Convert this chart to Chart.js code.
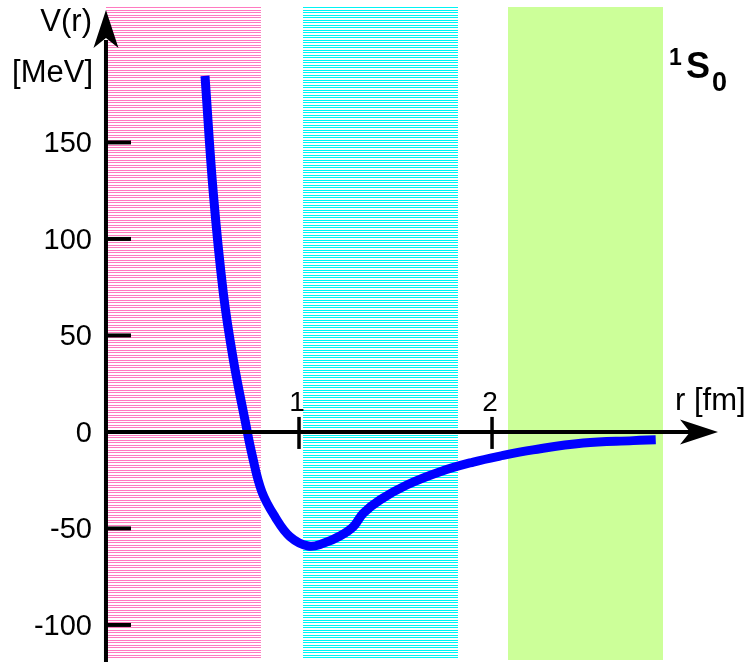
<!DOCTYPE html>
<html>
<head>
<meta charset="utf-8">
<script src="https://cdn.jsdelivr.net/npm/chart.js@4/dist/chart.umd.min.js"></script>
<style>
  html, body { margin: 0; padding: 0; background: #fff; }
  canvas { display: block; }
</style>
</head>
<body>
<canvas id="chart" width="748" height="662"></canvas>
<script>
// potential curve, r in fm, V in MeV
const rValues = [0.513, 0.556, 0.608, 0.660, 0.720, 0.759, 0.808, 0.876, 0.953, 1.048, 1.126, 1.212,
  1.281, 1.333, 1.420, 1.558, 1.731, 1.903, 2.041, 2.212, 2.472, 2.731, 2.848];
const vValues = [184.5, 123.7, 71.9, 37.3, 6.2, -12.8, -31.1, -44.0, -54.2, -59.1, -57.7, -53.9,
  -49.1, -42.1, -35.2, -27.5, -20.6, -15.6, -12.5, -9.3, -5.7, -4.5, -4.1];

// shaded r ranges
const bandStarts = [0, 1.021, 2.083];
const bandEnds = [0.803, 1.824, 2.886];
const bandTop = 220;
const bandBottom = -118;

const yTicks = [150, 100, 50, 0, -50, -100];
const yTickLabels = ['150', '100', '50', '0', '-50', '-100'];
const xTicks = [1, 2];
const xTickLabels = ['1', '2'];

const xMin = -0.549, xMax = 3.326;
const yMin = -119.2, yMax = 223.8;

function stripes(color) {
  const c = document.createElement('canvas');
  c.width = 1; c.height = 5;
  const g = c.getContext('2d');
  g.fillStyle = '#fff';
  g.fillRect(0, 0, 1, 5);
  g.fillStyle = color;
  g.fillRect(0, 0, 1, 1);
  g.fillRect(0, 2, 1, 1);
  return g.createPattern(c, 'repeat');
}

const ctx = document.getElementById('chart').getContext('2d');
const bandFills = [stripes('#ff7ac0'), stripes('#00f4f4'), '#ccff99'];

const bandsPlugin = {
  id: 'bands',
  beforeDatasetsDraw(chart) {
    const { ctx, scales: { x, y } } = chart;
    ctx.save();
    bandStarts.forEach((s, i) => {
      const x0 = Math.round(x.getPixelForValue(s));
      const x1 = Math.round(x.getPixelForValue(bandEnds[i]));
      const y0 = Math.round(y.getPixelForValue(bandTop));
      const y1 = Math.round(y.getPixelForValue(bandBottom));
      ctx.fillStyle = bandFills[i];
      ctx.fillRect(x0, y0, x1 - x0, y1 - y0);
    });
    ctx.restore();
  }
};

const axesPlugin = {
  id: 'axes',
  afterDatasetsDraw(chart) {
    const { ctx, scales: { x, y } } = chart;
    const ax = x.getPixelForValue(0);
    const ay = y.getPixelForValue(0);
    ctx.save();
    ctx.strokeStyle = '#000';
    ctx.fillStyle = '#000';

    // y axis
    ctx.lineWidth = 4;
    ctx.beginPath();
    ctx.moveTo(ax, chart.height);
    ctx.lineTo(ax, 40);
    ctx.stroke();
    ctx.beginPath();
    ctx.moveTo(ax, 10);
    ctx.lineTo(ax - 12.5, 48);
    ctx.lineTo(ax, 38);
    ctx.lineTo(ax + 12.5, 48);
    ctx.closePath();
    ctx.fill();

    // x axis
    ctx.beginPath();
    ctx.moveTo(ax, ay);
    ctx.lineTo(692, ay);
    ctx.stroke();
    ctx.beginPath();
    ctx.moveTo(718, ay);
    ctx.lineTo(680, ay - 12.5);
    ctx.lineTo(690, ay);
    ctx.lineTo(680, ay + 12.5);
    ctx.closePath();
    ctx.fill();

    // y ticks + labels
    ctx.font = '29px "Liberation Sans", Arial, sans-serif';
    ctx.textAlign = 'right';
    ctx.textBaseline = 'middle';
    yTicks.forEach((v, i) => {
      const py = y.getPixelForValue(v);
      if (v !== 0) {
        ctx.beginPath();
        ctx.moveTo(ax, py);
        ctx.lineTo(ax + 25, py);
        ctx.stroke();
      }
      ctx.fillText(yTickLabels[i], 92, py + 2);
    });

    // x ticks + labels
    ctx.lineWidth = 3.5;
    ctx.font = '28px "Liberation Sans", Arial, sans-serif';
    ctx.textAlign = 'center';
    ctx.textBaseline = 'alphabetic';
    xTicks.forEach((v, i) => {
      const px = x.getPixelForValue(v);
      ctx.beginPath();
      ctx.moveTo(px, ay - 15);
      ctx.lineTo(px, ay + 17);
      ctx.stroke();
      ctx.fillText(xTickLabels[i], px - 2, 411);
    });

    // axis titles
    ctx.font = '31px "Liberation Sans", Arial, sans-serif';
    ctx.textAlign = 'right';
    ctx.fillText('V(r)', 92, 31);
    ctx.fillText('[MeV]', 93, 82);
    ctx.textAlign = 'left';
    ctx.fillText('r [fm]', 675, 410);

    // state label 1S0
    ctx.font = 'bold 23px "Liberation Sans", Arial, sans-serif';
    ctx.fillText('1', 669, 65);
    ctx.font = 'bold 36px "Liberation Sans", Arial, sans-serif';
    ctx.fillText('S', 686, 78);
    ctx.font = 'bold 27px "Liberation Sans", Arial, sans-serif';
    ctx.fillText('0', 712, 91);
    ctx.restore();
  }
};

new Chart(ctx, {
  type: 'scatter',
  data: {
    datasets: [{
      data: rValues.map((r, i) => ({ x: r, y: vValues[i] })),
      showLine: true,
      borderColor: '#0000ff',
      borderWidth: 9,
      borderCapStyle: 'butt',
      borderJoinStyle: 'round',
      tension: 0.4,
      pointRadius: 0,
      fill: false
    }]
  },
  options: {
    responsive: false,
    animation: false,
    layout: { padding: 0 },
    plugins: { legend: { display: false }, tooltip: { enabled: false } },
    scales: {
      x: { type: 'linear', min: xMin, max: xMax, display: false },
      y: { type: 'linear', min: yMin, max: yMax, display: false }
    }
  },
  plugins: [bandsPlugin, axesPlugin]
});
</script>
</body>
</html>
